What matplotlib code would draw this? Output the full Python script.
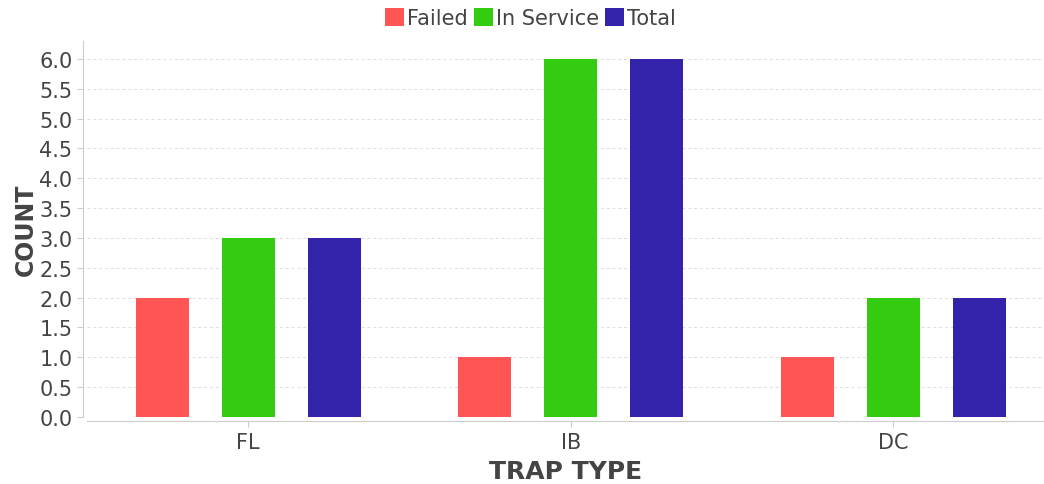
import numpy as np
import matplotlib
matplotlib.use("Agg")
import matplotlib.pyplot as plt

categories = ["FL", "IB", "DC"]
failed = [2, 1, 1]
in_service = [3, 6, 2]
total = [3, 6, 2]

series = [
    ("Failed", failed, "#FF5555"),
    ("In Service", in_service, "#33CC11"),
    ("Total", total, "#3322AA"),
]

plt.rcParams["font.family"] = ["DejaVu Sans"]
txt = "#444444"

fig = plt.figure(figsize=(10.44, 4.85), dpi=100)
ax = fig.add_axes([87 / 1044, 1 - 418 / 485, 957 / 1044, (418 - 42) / 485])

x = np.arange(len(categories))
w = 0.164
offs = [-0.267, 0, 0.267]
for (name, vals, col), off in zip(series, offs):
    ax.bar(x + off, vals, width=w, color=col, label=name, zorder=3)

ax.set_xlim(-0.5, 2.467)
ax.set_ylim(0, 6.3)
ax.set_yticks(np.arange(0, 6.01, 0.5))
ax.set_yticklabels([f"{v:.1f}" for v in np.arange(0, 6.01, 0.5)])
ax.set_xticks(x)
ax.set_xticklabels(categories)

ax.grid(axis="y", color="#dddddd", linestyle=(0, (3, 3)), linewidth=0.7, zorder=0)
for s in ["top", "right"]:
    ax.spines[s].set_visible(False)
for s in ["left", "bottom"]:
    ax.spines[s].set_color("#cccccc")
    ax.spines[s].set_position(("outward", 3))
ax.tick_params(axis="both", colors="#cccccc", labelcolor=txt, labelsize=15, length=4)

ax.set_ylabel("COUNT", fontsize=17, fontweight="bold", color=txt, labelpad=1)
ax.set_xlabel("TRAP TYPE", fontsize=18, fontweight="bold", color=txt, labelpad=5)

fig.legend(loc="upper center", bbox_to_anchor=(0.508, 1.02), ncol=3, frameon=False,
           fontsize=15, handlelength=0.9, handleheight=0.9, handletextpad=0.15,
           columnspacing=0.3, labelcolor=txt)

fig.savefig("out.png", dpi=100)
